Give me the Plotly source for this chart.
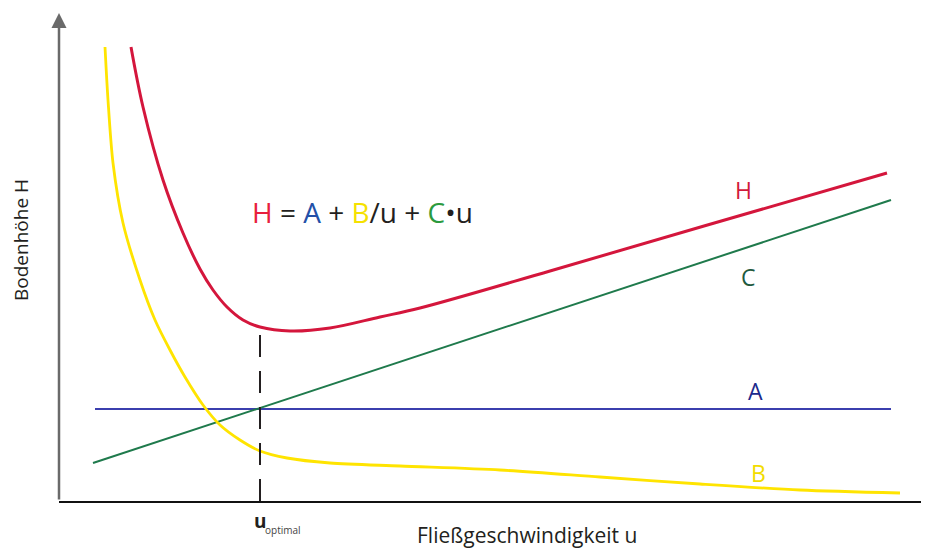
"""Van-Deemter sketch: plate height H vs. flow velocity u with its A, B/u and C*u terms."""

import plotly.graph_objects as go

# curve data (u in arbitrary units, H in arbitrary units)
A_U = [0.36, 8.32]
A_H = [0.92, 0.92]

C_U = [0.34, 8.32]
C_H = [0.38, 3.01]

B_U = [0.46, 0.49, 0.54, 0.64, 0.81, 0.96, 1.11, 1.26, 1.44, 1.61, 1.81,
       2.01, 2.28, 2.71, 3.41, 4.41, 5.41, 6.41, 7.41, 8.41]
B_H = [4.54, 4.01, 3.38, 2.78, 2.21, 1.81, 1.51, 1.24, 0.96, 0.76, 0.61,
       0.50, 0.43, 0.38, 0.35, 0.31, 0.24, 0.17, 0.11, 0.08]

H_U = [0.72, 0.84, 1.04, 1.24, 1.41, 1.54, 1.68, 1.84, 2.01, 2.31, 2.71,
       3.21, 3.61, 4.91, 6.45, 8.28]
H_H = [4.54, 3.94, 3.21, 2.68, 2.32, 2.11, 1.94, 1.81, 1.74, 1.70, 1.73,
       1.84, 1.93, 2.30, 2.75, 3.28]

U_OPT = 2.01
DASH_TOP = 1.66

CURVE_LABELS = ["H", "C", "A", "B"]
LABEL_U = [6.84, 6.89, 6.96, 6.99]
LABEL_H = [3.11, 2.24, 1.10, 0.28]

X_TITLE = "Fließgeschwindigkeit u"
Y_TITLE = "Bodenhöhe H"

_RED = "#d4163c"
_YELLOW = "#ffe400"
_BLUE = "#3b3fae"
_GREEN = "#1f7a4c"
_TEXT = "#231f20"
_LABEL_COLORS = {"H": "#d11a3a", "C": "#1f5a3e", "A": "#1b2a8c", "B": "#f2dc00"}
_FONT = "Open Sans"

X_RANGE = [0, 8.70]
Y_RANGE = [0, 4.93]

# the page body adds an 8px margin, so the figure is 8px smaller than the window
FIG_W, FIG_H = 921, 543


def _paper(u, h):
    """Data units -> paper fractions, for text placed outside the axes."""
    return u / X_RANGE[1], h / Y_RANGE[1]


def _line(fig, u, h, color, width, shape="linear", smoothing=0.8):
    fig.add_trace(
        go.Scatter(
            x=u,
            y=h,
            mode="lines",
            line=dict(color=color, width=width, shape=shape, smoothing=smoothing),
            showlegend=False,
            hoverinfo="skip",
        )
    )


def _add_curves(fig):
    _line(fig, A_U, A_H, _BLUE, 2)
    _line(fig, C_U, C_H, _GREEN, 2)
    _line(fig, B_U, B_H, _YELLOW, 2.8, "spline")
    _line(fig, H_U, H_H, _RED, 3, "spline", smoothing=1.0)
    # u_optimal marker
    fig.add_trace(
        go.Scatter(
            x=[U_OPT, U_OPT],
            y=[0, DASH_TOP],
            mode="lines",
            line=dict(color=_TEXT, width=2, dash="22px,14px"),
            showlegend=False,
            hoverinfo="skip",
        )
    )


def _paper_text(fig, u, h, text, size, color=_TEXT, **kw):
    px, py = _paper(u, h)
    opts = dict(xanchor="center", yanchor="middle")
    opts.update(kw)
    fig.add_annotation(
        x=px, y=py, xref="paper", yref="paper", text=text, showarrow=False,
        font=dict(family=_FONT, size=size, color=color), **opts,
    )


def _add_texts(fig):
    for name, u, h in zip(CURVE_LABELS, LABEL_U, LABEL_H):
        fig.add_annotation(
            x=u, y=h, text=name, showarrow=False,
            font=dict(family=_FONT, size=23, color=_LABEL_COLORS[name]),
        )

    formula = (
        f'<span style="color:#e8203c">H</span> = '
        f'<span style="color:#2350a8">A</span> + '
        f'<span style="color:#f5e100">B</span>/u + '
        f'<span style="color:#2b9a3e">C</span>•u'
    )
    fig.add_annotation(
        x=3.03, y=2.89, text=formula, showarrow=False,
        font=dict(family=_FONT, size=28, color=_TEXT),
    )

    # bottom of the figure, text sits on it
    _paper_text(fig, 4.68, -0.50, X_TITLE, 21, yanchor="bottom")
    _paper_text(fig, -0.38, 2.61, Y_TITLE, 19, textangle=-90)
    _paper_text(fig, U_OPT - 0.08, -0.20, "<b>u</b>", 19, xanchor="left")
    _paper_text(fig, U_OPT + 0.03, -0.29, "optimal", 10, "#444444", xanchor="left")

    # y axis with arrow head
    fig.add_annotation(
        x=0, y=4.88, ax=0, ay=0, axref="x", ayref="y", text="",
        showarrow=True, arrowhead=2, arrowsize=1.2, arrowwidth=2.5,
        arrowcolor="#6a6a6a",
    )


def _configure_layout(fig):
    fig.update_layout(
        width=FIG_W,
        height=FIG_H,
        margin=dict(l=51, r=0, t=0, b=50),
        plot_bgcolor="white",
        paper_bgcolor="white",
        showlegend=False,
    )
    fig.update_xaxes(
        range=X_RANGE, showgrid=False, zeroline=False, showticklabels=False,
        ticks="", showline=True, linecolor="#111111", linewidth=2,
    )
    fig.update_yaxes(
        range=Y_RANGE, showgrid=False, zeroline=False, showticklabels=False,
        ticks="", showline=False,
    )


fig = go.Figure()
_add_curves(fig)
_add_texts(fig)
_configure_layout(fig)
fig.write_html("out.html")
